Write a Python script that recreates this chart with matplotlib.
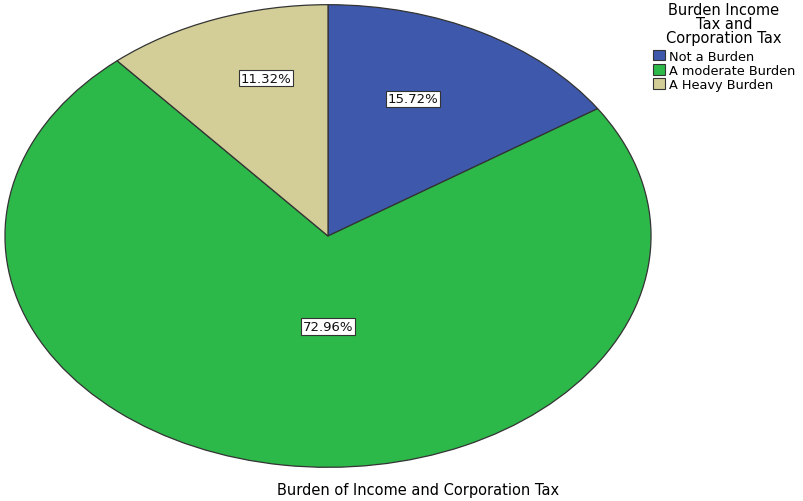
import matplotlib
matplotlib.use("Agg")
import matplotlib.pyplot as plt
import numpy as np
from matplotlib.patches import Patch

categories = ["Not a Burden", "A moderate Burden", "A Heavy Burden"]
values = [15.72, 72.96, 11.32]
colors = ["#3E58AC", "#2DB84A", "#D3CE97"]
label_dist = [0.50, 0.28, 0.525]      # fraction of horizontal radius, screen space
label_angle_adj = [-3.5, 7.9, 1.0]    # degrees

plt.rcParams['font.family'] = ['DejaVu Sans']

fig = plt.figure(figsize=(8.04, 5.02), dpi=100)
ax_w, ax_h = 648, 464
ax = fig.add_axes([4/804, 33/502, ax_w/804, ax_h/502])
wedges, _ = ax.pie(values, colors=colors, startangle=90, counterclock=False,
                   wedgeprops=dict(edgecolor="#333333", linewidth=0.9))
ax.set_xlim(-1.003, 1.003)
ax.set_ylim(-1.003, 1.003)
ax.set_aspect('auto')
ax.axis('off')

yscale = ax_w / ax_h
for w, v, d, a in zip(wedges, values, label_dist, label_angle_adj):
    mid = np.deg2rad((w.theta1 + w.theta2) / 2 + a)
    ax.text(d * np.cos(mid), d * np.sin(mid) * yscale, f"{v:.2f}%", ha='center', va='center',
            fontsize=9.5, color='#111111',
            bbox=dict(boxstyle='square,pad=0.12', fc='white', ec='#333333', lw=0.8))

handles = [Patch(facecolor=c, edgecolor='#333333', linewidth=0.8) for c in colors]
leg = fig.legend(handles, categories, title="Burden Income\nTax and\nCorporation Tax",
                 loc='upper left', bbox_to_anchor=(650/804, 1.0), frameon=False,
                 fontsize=9.3, title_fontsize=10.5, handlelength=1.0, handleheight=0.9,
                 handletextpad=0.25, labelspacing=0.1, borderaxespad=0.0, borderpad=0.2)
leg.get_title().set_multialignment('center')
leg.get_title().set_linespacing(0.92)
leg._legend_box.sep = 3.5

fig.text(418/804, 1 - 491/502, "Burden of Income and Corporation Tax",
         ha='center', va='center', fontsize=10.5)

fig.savefig("out.png", dpi=100)
